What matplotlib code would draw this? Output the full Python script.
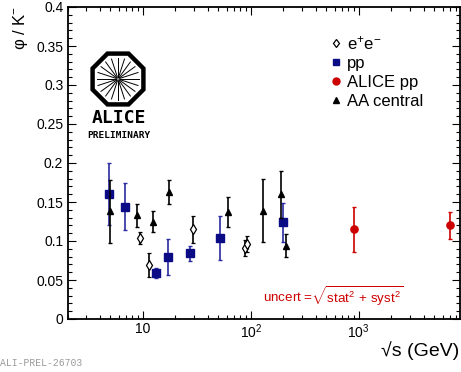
import numpy as np
import matplotlib
matplotlib.use("Agg")
import matplotlib.pyplot as plt
from matplotlib.ticker import MultipleLocator, LogLocator, FixedLocator, FixedFormatter, FuncFormatter, NullFormatter
from matplotlib.patches import RegularPolygon, Circle
from matplotlib.lines import Line2D

plt.rcParams['font.family'] = ['Liberation Sans', 'DejaVu Sans']
plt.rcParams['mathtext.fontset'] = 'custom'
plt.rcParams['mathtext.rm'] = 'Liberation Sans'
plt.rcParams['mathtext.it'] = 'Liberation Sans:italic'
plt.rcParams['mathtext.bf'] = 'Liberation Sans:bold'
plt.rcParams['mathtext.sf'] = 'Liberation Sans'

# ---- data ----
ee_x = [9.45, 11.4, 29.0, 89.0, 93.0]
ee_y = [0.104, 0.069, 0.115, 0.091, 0.096]
ee_e = [0.008, 0.015, 0.017, 0.010, 0.010]

pp_x = [4.85, 6.8, 13.1, 17.1, 27.4, 52.0, 200.0]
pp_y = [0.160, 0.144, 0.059, 0.079, 0.084, 0.104, 0.124]
pp_e = [0.040, 0.030, 0.006, 0.023, 0.009, 0.028, 0.025]

al_x = [900.0, 7000.0]
al_y = [0.115, 0.120]
al_e = [0.029, 0.017]

aa_x = [5.0, 8.8, 12.3, 17.3, 62.0, 130.0, 190.0, 210.0]
aa_y = [0.138, 0.133, 0.125, 0.163, 0.137, 0.139, 0.160, 0.094]
aa_e = [0.040, 0.015, 0.0135, 0.015, 0.019, 0.040, 0.030, 0.015]

x_ticks = [10, 100, 1000]
x_ticklabels = ['10', '$10^2$', '$10^3$']

W, H = 461, 372
fig = plt.figure(figsize=(W / 100, H / 100), dpi=100)
L, R, T, B = 67.5, 460, 7, 319
ax = fig.add_axes([L / W, 1 - B / H, (R - L) / W, (B - T) / H])

blue = '#0b0b85'
red = '#cc0000'

ax.errorbar(pp_x, pp_y, yerr=pp_e, fmt='s', color=blue, ms=5.2, mec=blue,
            ecolor='#2a2aa0', elinewidth=1.2, capsize=1.5, capthick=1.0, zorder=3)
ax.errorbar(aa_x, aa_y, yerr=aa_e, fmt='^', color='black', ms=5,
            ecolor='black', elinewidth=1.2, capsize=1.5, capthick=1.0, zorder=4)
ax.errorbar(ee_x, ee_y, yerr=ee_e, fmt='d', color='black', mfc='white', mec='black', ms=5, mew=0.9,
            ecolor='black', elinewidth=1.2, capsize=1.5, capthick=1.0, zorder=4)
ax.errorbar(al_x, al_y, yerr=al_e, fmt='o', color=red, ms=5.2,
            ecolor=red, elinewidth=1.2, capsize=1.5, capthick=1.0, zorder=4)

ax.set_xscale('log')
ax.set_xlim(2.0, 8700)
ax.set_ylim(0, 0.4)
ax.xaxis.set_major_locator(FixedLocator(x_ticks))
ax.xaxis.set_major_formatter(FixedFormatter(x_ticklabels))
ax.xaxis.set_minor_locator(LogLocator(base=10, subs=np.arange(2, 10), numticks=20))
ax.xaxis.set_minor_formatter(NullFormatter())
ax.yaxis.set_major_locator(MultipleLocator(0.05))
ax.yaxis.set_minor_locator(MultipleLocator(0.01))
ax.yaxis.set_major_formatter(FuncFormatter(lambda v, p: '%g' % round(v, 3)))

ax.tick_params(which='both', direction='in', top=True, right=True, width=0.8, color='black')
ax.tick_params(which='major', length=6, labelsize=10)
ax.tick_params(which='minor', length=3)
ax.tick_params(axis='y', which='major', pad=3)
ax.tick_params(axis='x', which='major', pad=2.5)
for s in ax.spines.values():
    s.set_linewidth(1.3)

# legend
handles = [
    Line2D([], [], ls='none', marker='d', mfc='white', mec='black', ms=4.5, mew=0.9),
    Line2D([], [], ls='none', marker='s', color=blue, ms=5),
    Line2D([], [], ls='none', marker='o', color=red, ms=5),
    Line2D([], [], ls='none', marker='^', color='black', ms=5),
]
labels = ['e$^{+}$e$^{-}$', 'pp', 'ALICE pp', 'AA central']
fig.legend(handles, labels, loc='upper left', bbox_to_anchor=(331 / W, 1 - 34 / H),
           frameon=False, fontsize=12, handlelength=0.6, handletextpad=0.35,
           labelspacing=0.24, borderpad=0, borderaxespad=0)

# annotation
fig.text(263 / W, 1 - 296 / H, r'uncert =$\sqrt{\mathrm{stat}^{2}\,+\,\mathrm{syst}^{2}}$',
         color=red, fontsize=9.6, ha='left', va='center')

# axis titles
fig.text(459 / W, 1 - 351 / H, '\u221as (GeV)', fontsize=14, ha='right', va='center')
fig.text(20 / W, 1 - 6 / H, r'φ / K$^{-}$', fontsize=12, rotation=90, ha='center', va='top')

# preliminary tag
fig.text(0 / W, 1 - 363 / H, 'ALI-PREL-26703', fontsize=7, color='#9a9a9a',
         family='Liberation Mono', ha='left', va='center')

# ALICE logo
oct_r = 27.5
fig.patches.append(RegularPolygon((118, H - 79), numVertices=8, radius=oct_r,
                                  orientation=np.pi / 8, facecolor='white', edgecolor='black',
                                  linewidth=3.2, transform=None, figure=fig))
for a in np.linspace(0, 2 * np.pi, 20, endpoint=False):
    r0, r1 = 2.0, 21.0
    fig.lines.append(Line2D([118 + r0 * np.cos(a), 118 + r1 * np.cos(a)],
                            [H - 79 + r0 * np.sin(a), H - 79 + r1 * np.sin(a)],
                            color='black', lw=0.7, transform=None, figure=fig))
fig.patches.append(Circle((118, H - 79), 2.2, facecolor='#888888', edgecolor='none',
                          transform=None, figure=fig))
fig.text(118.5 / W, 1 - 118 / H, 'ALICE', fontsize=13, family='DejaVu Sans Mono',
         weight='bold', ha='center', va='center')
fig.text(118.5 / W, 1 - 136 / H, 'PRELIMINARY', fontsize=6.8, family='DejaVu Sans Mono',
         weight='bold', ha='center', va='center')

fig.savefig('out.png', dpi=100)
